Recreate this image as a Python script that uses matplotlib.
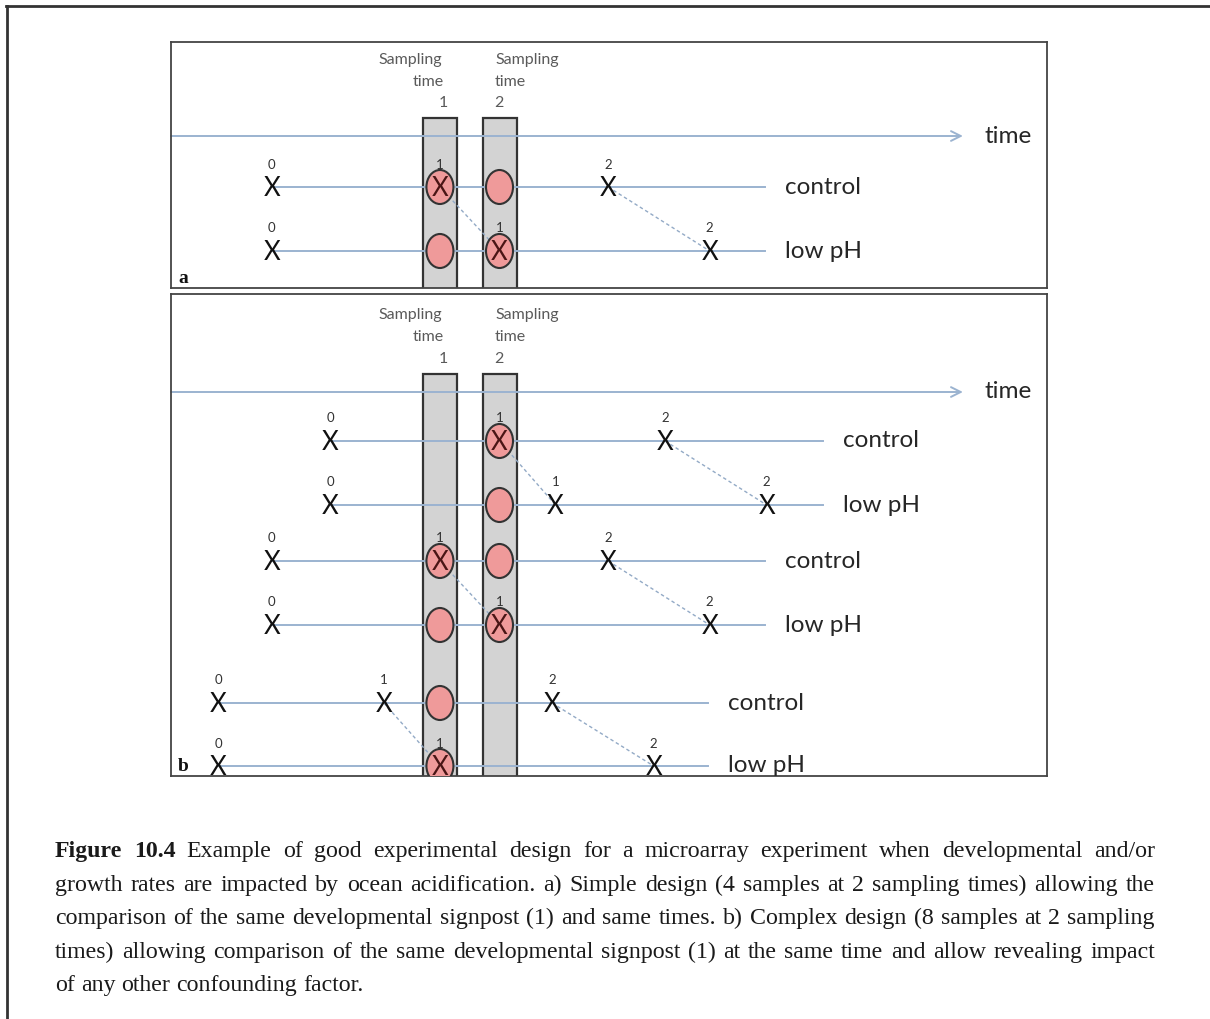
import matplotlib
matplotlib.use("Agg")
import matplotlib.pyplot as plt
from matplotlib.patches import Rectangle, Ellipse
from matplotlib.lines import Line2D

plt.rcParams['font.family'] = ['Lato', 'DejaVu Sans']

# ------------------------- data -------------------------
treatments = ["control", "low pH"]
stage_names = ["0", "1", "2"]
sampling_names = ["1", "2"]
sampling_times = [30.7, 37.5]          # time of sampling 1 and 2
time_axis_max = 90.4

# panel a : times of developmental signposts 0, 1, 2 for each row
a_control = [11.5, 30.7, 49.9]
a_lowph = [11.5, 37.5, 61.5]
a_sampled = [[0, 1], [0, 1]]           # sampling times at which each row is sampled
a_row_end = [67.8, 67.8]

# panel b
b_control_1 = [18.2, 37.5, 56.4]
b_lowph_1 = [18.2, 43.9, 68.0]
b_control_2 = [11.5, 30.7, 49.9]
b_lowph_2 = [11.5, 37.5, 61.5]
b_control_3 = [5.4, 24.3, 43.5]
b_lowph_3 = [5.4, 30.7, 55.1]
b_sampled = [[1], [1], [0, 1], [0, 1], [0], [0]]
b_row_end = [74.4, 74.4, 67.8, 67.8, 61.3, 61.3]

caption_lines = [
    "Figure 10.4 Example of good experimental design for a microarray experiment when developmental and/or",
    "growth rates are impacted by ocean acidification. a) Simple design (4 samples at 2 sampling times) allowing the",
    "comparison of the same developmental signpost (1) and same times. b) Complex design (8 samples at 2 sampling",
    "times) allowing comparison of the same developmental signpost (1) at the same time and allow revealing impact",
    "of any other confounding factor.",
]
caption_bold_words = 2

# ------------------------- layout / style -------------------------
W, H = 1210, 1019
PXU = 8.76                      # pixels per time unit
LINE_C = '#9bb3d0'
DASH_C = '#93aac6'
EDGE_C = '#333333'
BAR_C = '#d3d3d3'
DOT_C = '#ef9a9a'
TXT_C = '#262626'
SAMP_C = '#5a5a5a'

fig = plt.figure(figsize=(W / 100, H / 100), dpi=100)
fig.patch.set_facecolor('white')

# outer frame (top and left only)
fig.add_artist(Line2D([6 / W, 1], [1 - 6 / H, 1 - 6 / H], color='#333333', lw=2.0,
                      transform=fig.transFigure))
fig.add_artist(Line2D([6.5 / W, 6.5 / W], [0, 1 - 6 / H], color='#333333', lw=2.0,
                      transform=fig.transFigure))


def draw_panel(rect, rows, sampled, row_end, row_y, bar_top, axis_y, samp_y, letter):
    x0, y0, x1, y1 = rect
    ax = fig.add_axes([x0 / W, 1 - y1 / H, (x1 - x0) / W, (y1 - y0) / H])
    bh = y1 - y0
    ax.set_xlim(0, (x1 - x0) / PXU)
    ax.set_ylim(bh, 0)
    ax.set_xticks([])
    ax.set_yticks([])
    for s in ax.spines.values():
        s.set_color('#444444')
        s.set_linewidth(1.3)

    bw = 34 / PXU
    # sampling bars
    samp_dx = [[-30, -12, 3], [28, 11, -1]]
    for k, st in enumerate(sampling_times):
        ax.add_patch(Rectangle((st - bw / 2, bar_top), bw, bh - bar_top + 5,
                               fc=BAR_C, ec=EDGE_C, lw=1.6, zorder=1))
        for j, txt in enumerate(["Sampling", "time", sampling_names[k]]):
            ax.text(st + samp_dx[k][j] / PXU, samp_y[j], txt, ha='center', va='center',
                    fontsize=11.5, color=SAMP_C, zorder=6)

    # time axis
    ax.annotate('', xy=(time_axis_max, axis_y), xytext=(0, axis_y),
                arrowprops=dict(arrowstyle='->,head_length=0.7,head_width=0.35',
                                color=LINE_C, lw=1.4, shrinkA=0, shrinkB=0), zorder=2)
    ax.text(time_axis_max + 22 / PXU, axis_y, "time", ha='left', va='center',
            fontsize=17.5, color=TXT_C)

    # rows
    for i, times in enumerate(rows):
        y = row_y[i]
        ax.plot([times[0], row_end[i]], [y, y], color=LINE_C, lw=1.4, zorder=2)
        ax.text(row_end[i] + 20 / PXU, y, treatments[i % 2], ha='left', va='center',
                fontsize=17.5, color=TXT_C)
        for k in sampled[i]:
            ax.add_patch(Ellipse((sampling_times[k], y), 27 / PXU, 34,
                                 fc=DOT_C, ec=EDGE_C, lw=1.5, zorder=4))
        for j, t in enumerate(times):
            inside = any(abs(t - sampling_times[k]) < 0.5 for k in sampled[i])
            ax.text(t, y + 9, "X", ha='center', va='baseline', fontsize=18.5,
                    color='#4a1515' if inside else '#111111', zorder=5)
            ax.text(t, y - 18.5, stage_names[j], ha='center', va='baseline',
                    fontsize=9.5, color='#333333', zorder=5)

    # dashed connectors between control and low pH of each pair
    for p in range(0, len(rows), 2):
        for j in (1, 2):
            ax.plot([rows[p][j], rows[p + 1][j]], [row_y[p], row_y[p + 1]],
                    color=DASH_C, lw=1.0, ls=(0, (2.5, 2)), zorder=3)

    ax.text(7 / PXU, bh - 5, letter, ha='left', va='baseline', fontsize=14,
            fontweight='bold', family=['Liberation Serif', 'DejaVu Serif'], color='#111111')
    return ax


draw_panel((171, 42, 1047, 288), [a_control, a_lowph], a_sampled, a_row_end,
           row_y=[145, 209], bar_top=76, axis_y=94, samp_y=[18, 40, 61], letter='a')
draw_panel((171, 294, 1047, 776),
           [b_control_1, b_lowph_1, b_control_2, b_lowph_2, b_control_3, b_lowph_3],
           b_sampled, b_row_end,
           row_y=[147, 211, 267, 331, 409, 472], bar_top=80, axis_y=98,
           samp_y=[21, 43, 65], letter='b')

# ------------------------- caption (justified) -------------------------
fig.canvas.draw()
renderer = fig.canvas.get_renderer()
CAP_L, CAP_R = 55, 1155
cap_base = [857, 891, 924, 958, 991]
cap_fs = 17.2
serif = ['Liberation Serif', 'DejaVu Serif']
for li, line in enumerate(caption_lines):
    words = line.split(' ')
    objs = []
    for wi, w in enumerate(words):
        bold = (li == 0 and wi < caption_bold_words)
        t = fig.text(0, 1 - cap_base[li] / H, w, ha='left', va='baseline',
                     fontsize=cap_fs, family=serif, color='#1a1a1a',
                     fontweight='bold' if bold else 'normal')
        objs.append(t)
    widths = [o.get_window_extent(renderer).width for o in objs]
    if li < len(caption_lines) - 1:
        gap = (CAP_R - CAP_L - sum(widths)) / (len(words) - 1)
    else:
        gap = cap_fs * 100 / 72 * 0.25
    x = CAP_L
    for o, w in zip(objs, widths):
        o.set_x(x / W)
        x += w + gap

fig.savefig('out.png', dpi=100, facecolor='white')
